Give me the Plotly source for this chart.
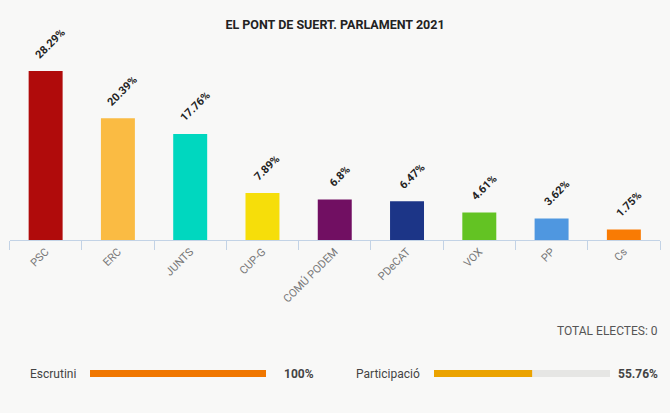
import plotly.graph_objects as go

# ---- data ----
parties = ["PSC", "ERC", "JUNTS", "CUP-G", "COMÚ PODEM", "PDeCAT", "VOX", "PP", "Cs"]
pct = [28.29, 20.39, 17.76, 7.89, 6.8, 6.47, 4.61, 3.62, 1.75]
colors = ["#b00b0b", "#fabb43", "#00d7bf", "#f6de0a", "#710f62",
          "#1c3587", "#63c323", "#4f97e0", "#f97b04"]
title = "EL PONT DE SUERT. PARLAMENT 2021"
total_electes = 0
escrutini = 100
participacio = 55.76

W, H = 670, 413
BG = "#f8f8f7"
FONT = "Roboto"

def px(x):
    return x / W

def py(y):
    return (H - y) / H

fig = go.Figure()

fig.add_trace(go.Bar(
    x=parties, y=pct,
    marker=dict(color=colors, line=dict(width=0)),
    width=0.47,
    cliponaxis=False,
    hoverinfo="skip",
    xaxis="x", yaxis="y",
))

# progress bars: escrutini
fig.add_trace(go.Bar(x=[100], y=["e"], orientation="h", width=1,
                     marker=dict(color="#e6e6e4", line=dict(width=0)),
                     xaxis="x2", yaxis="y2", hoverinfo="skip"))
fig.add_trace(go.Bar(x=[escrutini], y=["e"], orientation="h", width=1,
                     marker=dict(color="#f07700", line=dict(width=0)),
                     xaxis="x2", yaxis="y2", hoverinfo="skip"))
# participació
fig.add_trace(go.Bar(x=[100], y=["p"], orientation="h", width=1,
                     marker=dict(color="#e6e6e4", line=dict(width=0)),
                     xaxis="x3", yaxis="y3", hoverinfo="skip"))
fig.add_trace(go.Bar(x=[participacio], y=["p"], orientation="h", width=1,
                     marker=dict(color="#eba300", line=dict(width=0)),
                     xaxis="x3", yaxis="y3", hoverinfo="skip"))

axis_col = "#c3d3e6"
y_top = 60.9  # pixel for 30%
fig.update_layout(
    width=W, height=H,
    margin=dict(l=0, r=0, t=0, b=0),
    paper_bgcolor=BG, plot_bgcolor=BG,
    showlegend=False,
    barmode="overlay",
    font=dict(family=FONT),
    title=dict(text=f"<b>{title}</b>", x=0.5, xanchor="center",
               y=py(25), yanchor="middle",
               font=dict(family=FONT, size=12.5, color="#222")),
    xaxis=dict(domain=[px(9.5), px(660)], type="category",
               showline=True, linecolor=axis_col, linewidth=1,
               ticks="outside", tickson="boundaries", ticklen=9,
               tickcolor=axis_col, tickwidth=1,
               tickangle=-45, tickfont=dict(family=FONT, size=11, color="#777"),
               showgrid=False, zeroline=False, fixedrange=True),
    yaxis=dict(domain=[py(240), py(y_top)], range=[0, 30],
               visible=False, showgrid=False, zeroline=False),
    xaxis2=dict(domain=[px(90), px(266)], range=[0, 100], visible=False,
                anchor="y2"),
    yaxis2=dict(domain=[py(377), py(370)], range=[-0.5, 0.5], visible=False,
                anchor="x2", type="category"),
    xaxis3=dict(domain=[px(434), px(610)], range=[0, 100], visible=False,
                anchor="y3"),
    yaxis3=dict(domain=[py(377), py(370)], range=[-0.5, 0.5], visible=False,
                anchor="x3", type="category"),
)

ann = [
    dict(text=f"TOTAL ELECTES: {total_electes}", x=px(660), y=py(331),
         xanchor="right", yanchor="middle",
         font=dict(family=FONT, size=12, color="#555")),
    dict(text="Escrutini", x=px(28), y=py(374), xanchor="left", yanchor="middle",
         font=dict(family=FONT, size=12, color="#444")),
    dict(text=f"<b>{escrutini:g}%</b>", x=px(316), y=py(374), xanchor="right",
         yanchor="middle", font=dict(family=FONT, size=12, color="#444")),
    dict(text="Participació", x=px(354), y=py(374), xanchor="left", yanchor="middle",
         font=dict(family=FONT, size=12, color="#444")),
    dict(text=f"<b>{participacio:g}%</b>", x=px(660), y=py(374), xanchor="right",
         yanchor="middle", font=dict(family=FONT, size=12, color="#444")),
]
for a in ann:
    a.update(xref="paper", yref="paper", showarrow=False)

# value labels above bars
for p, v in zip(parties, pct):
    ann.append(dict(text=f"<b>{v}%</b>", x=p, y=v, xref="x", yref="y",
                    xanchor="center", yanchor="bottom", textangle=-45,
                    xshift=5, yshift=7, showarrow=False,
                    font=dict(family=FONT, size=11, color="#222")))

fig.update_layout(annotations=ann)

fig.write_html("out.html", config={"displayModeBar": False})
